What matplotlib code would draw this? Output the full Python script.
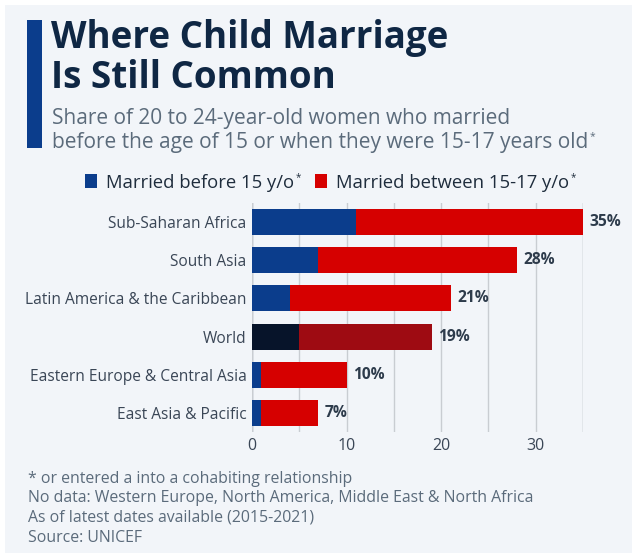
import matplotlib
matplotlib.use("Agg")
import matplotlib.pyplot as plt
from matplotlib.patches import Rectangle

plt.rcParams['font.family'] = ['Open Sans', 'DejaVu Sans']

categories = ["Sub-Saharan Africa", "South Asia", "Latin America & the Caribbean",
              "World", "Eastern Europe & Central Asia", "East Asia & Pacific"]
before_15 = [11, 7, 4, 5, 1, 1]
between_15_17 = [24, 21, 17, 14, 9, 6]
totals = [35, 28, 21, 19, 10, 7]
x_ticks = [0, 10, 20, 30]
legend_labels = ["Married before 15 y/o", "Married between 15-17 y/o"]

BLUE = "#0b3d8c"
RED = "#d60000"
WORLD_BLUE = "#07142a"
WORLD_RED = "#9e0b12"
BG = "#f2f5f9"
TITLE_C = "#0f2744"
SUB_C = "#5b6b7b"
TXT_C = "#3a4656"

W, H = 632, 553
fig = plt.figure(figsize=(W / 100, H / 100), dpi=100)
fig.patch.set_facecolor("white")

def fx(px):
    return px / W

def fy(py):
    return 1 - py / H

# card background
fig.patches.append(Rectangle((fx(5), 0), 1 - fx(5), fy(5), transform=fig.transFigure,
                             facecolor=BG, edgecolor="none", zorder=-10))
# accent bar
fig.patches.append(Rectangle((fx(27), fy(148)), fx(15), (148 - 20) / H, transform=fig.transFigure,
                             facecolor=BLUE, edgecolor="none"))

# title
fig.text(fx(51), fy(48), "Where Child Marriage", fontsize=26.5, fontweight="bold",
         color=TITLE_C, va="baseline", ha="left")
fig.text(fx(51), fy(88), "Is Still Common", fontsize=26.5, fontweight="bold",
         color=TITLE_C, va="baseline", ha="left")
fig.text(fx(52), fy(124), "Share of 20 to 24-year-old women who married", fontsize=15,
         color=SUB_C, va="baseline", ha="left")
sub2 = fig.text(fx(52), fy(148), "before the age of 15 or when they were 15-17 years old", fontsize=15,
                color=SUB_C, va="baseline", ha="left")

# axes
ax = fig.add_axes([fx(252), fy(432), fx(583 - 252), (432 - 203) / H])
ax.set_facecolor("none")
y = list(range(len(categories)))
cols_b = [WORLD_BLUE if c == "World" else BLUE for c in categories]
cols_r = [WORLD_RED if c == "World" else RED for c in categories]
ax.barh(y, before_15, height=0.68, color=cols_b, zorder=3)
ax.barh(y, between_15_17, left=before_15, height=0.68, color=cols_r, zorder=3)
for yi, t in zip(y, totals):
    ax.text(t + 0.7, yi, f"{t}%", va="center", ha="left", fontsize=11.2,
            fontweight="bold", color="#2d3b4b", zorder=4)
ax.set_xlim(0, 35)
ax.set_ylim(len(categories) - 0.5, -0.5)
ax.set_yticks(y)
ax.set_yticklabels(categories, fontsize=11.2, color=TXT_C)
ax.set_xticks(x_ticks)
ax.set_xticklabels([str(v) for v in x_ticks], fontsize=11.5, color=TXT_C)
ax.set_xticks(range(5, 36, 10), minor=True)
ax.grid(axis="x", which="both", color="#c9cdd2", linewidth=1, zorder=0)
ax.tick_params(axis="both", which="both", length=0)
ax.tick_params(axis="y", pad=4)
ax.tick_params(axis="x", pad=4)
for s in ax.spines.values():
    s.set_visible(False)
ax.axvline(0, color="#9aa3ad", linewidth=1, zorder=1)
ax.axvline(35, color="#c9cdd2", linewidth=1, zorder=0)

# legend
fig.patches.append(Rectangle((fx(85), fy(188)), fx(12), 14 / H, transform=fig.transFigure,
                             facecolor=BLUE, edgecolor="none"))
t1 = fig.text(fx(106), fy(188), legend_labels[0], fontsize=13.3, color="#1f2d3d",
              va="baseline", ha="left")
fig.patches.append(Rectangle((fx(315), fy(188)), fx(12), 14 / H, transform=fig.transFigure,
                             facecolor=RED, edgecolor="none"))
t2 = fig.text(fx(336), fy(188), legend_labels[1], fontsize=13.3, color="#1f2d3d",
              va="baseline", ha="left")

# footnotes
foot = ["* or entered a into a cohabiting relationship",
        "No data: Western Europe, North America, Middle East & North Africa",
        "As of latest dates available (2015-2021)",
        "Source: UNICEF"]
for line, base in zip(foot, [483, 502, 522, 542]):
    fig.text(fx(28), fy(base), line, fontsize=11.4, color=SUB_C, va="baseline", ha="left")

# superscript asterisks
fig.canvas.draw()
r = fig.canvas.get_renderer()
for t, size, dy in [(sub2, 7.5, 9), (t1, 7, 8), (t2, 7, 8)]:
    bb = t.get_window_extent(r)
    x1 = bb.x1 / W
    yb = t.get_position()[1]
    fig.text(x1 + 1 / W, yb + dy / H, "*", fontsize=size, color=t.get_color(),
             va="baseline", ha="left")

fig.savefig("out.png", dpi=100, facecolor=fig.get_facecolor())
